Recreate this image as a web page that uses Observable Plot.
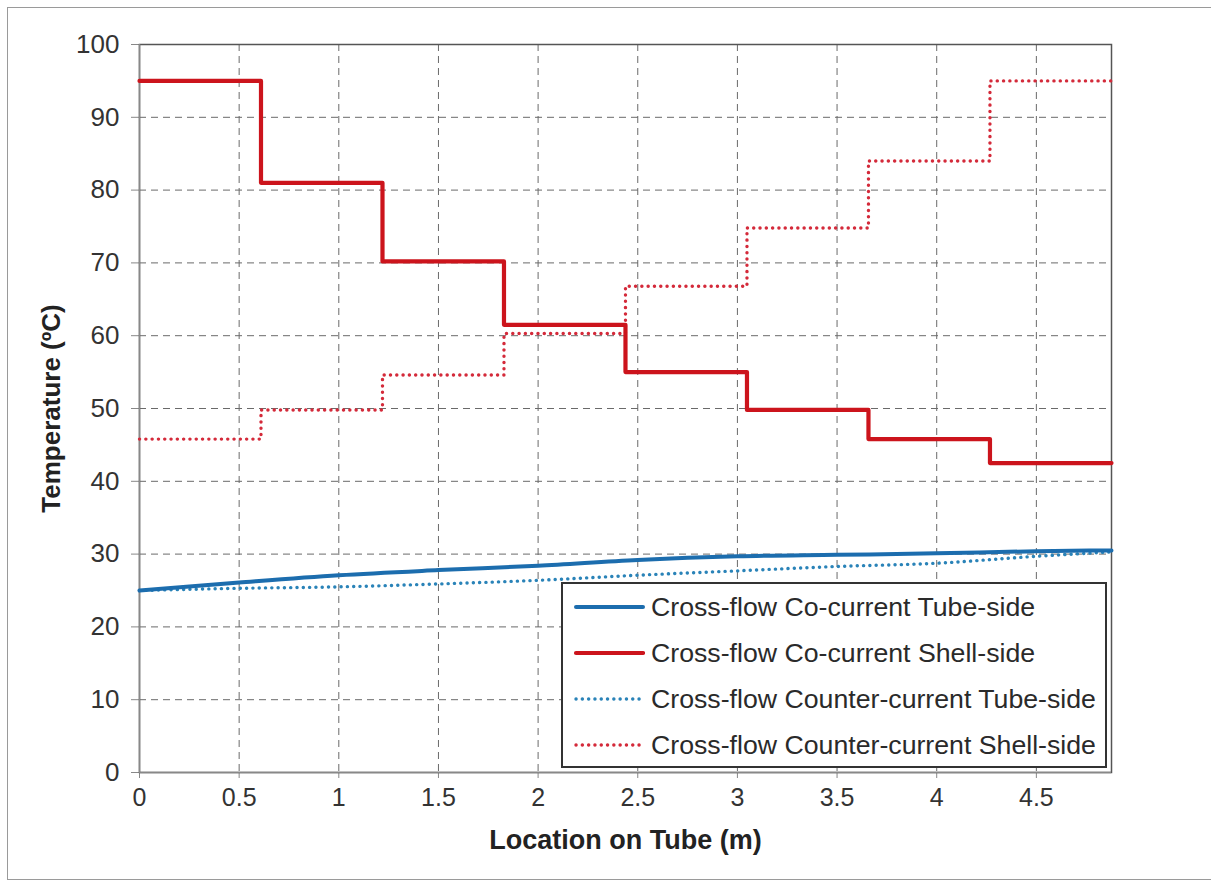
<!DOCTYPE html>
<html>
<head>
<meta charset="utf-8">
<script src="https://cdn.jsdelivr.net/npm/d3@7"></script>
<script src="https://cdn.jsdelivr.net/npm/@observablehq/plot@0.6"></script>
<style>
  html, body { margin: 0; padding: 0; background: #fff; }
  #wrap { position: relative; width: 1211px; height: 882px; overflow: hidden; }
  #border { position: absolute; left: 7px; top: 7px; width: 1210px; height: 873px; border: 1.5px solid #9a9a9a; box-sizing: border-box; pointer-events: none; }
  #legend { position: absolute; left: 561px; top: 582px; width: 546px; height: 186px; border: 2px solid #333; box-sizing: border-box; background: #fff;
            font-family: "Liberation Sans", Arial, sans-serif; font-size: 26.7px; color: #2a2a2a; }
  .row { position: absolute; left: 0; height: 30px; }
  .txt { position: absolute; left: 88px; top: 0px; white-space: nowrap; line-height: 30px; }
</style>
</head>
<body>
<div id="wrap">
  <div id="chart"></div>
  <div id="border"></div>
  <div id="legend"></div>
</div>
<script>
// ---- data ----
const tubeX = [0, 0.5, 1, 1.5, 2, 2.5, 3, 3.5, 4, 4.5, 4.877];
const coTube = [25, 26.1, 27.1, 27.8, 28.4, 29.2, 29.7, 29.9, 30.1, 30.4, 30.5];
const counterTube = [25, 25.3, 25.5, 25.9, 26.4, 27.1, 27.7, 28.3, 28.75, 29.7, 30.3];

const stepX = [0, 0.6096, 1.2192, 1.8288, 2.4384, 3.048, 3.6576, 4.2672, 4.877];
const coShell = [95, 81, 70.2, 61.5, 55, 49.8, 45.8, 42.5, 42.5];
const counterShell = [45.8, 49.8, 54.6, 60.3, 66.8, 74.8, 84, 95, 95];

const xTicks = [0, 0.5, 1, 1.5, 2, 2.5, 3, 3.5, 4, 4.5];
const yTicks = [0, 10, 20, 30, 40, 50, 60, 70, 80, 90, 100];

const seriesNames = [
  "Cross-flow Co-current Tube-side",
  "Cross-flow Co-current Shell-side",
  "Cross-flow Counter-current Tube-side",
  "Cross-flow Counter-current Shell-side"
];
const xLabel = "Location on Tube (m)";
const yLabel = "Temperature (ºC)";

// ---- styles ----
const blue = "#1c6dae";
const blueDot = "#2a83b8";
const red = "#cc141c";
const redDot = "#d42a3a";
const styles = [
  {stroke: blue, width: 4, dash: null},
  {stroke: red, width: 4.2, dash: null},
  {stroke: blueDot, width: 3.4, dash: "0.1 6.2"},
  {stroke: redDot, width: 3.4, dash: "0.1 6.2"}
];

const tubeCo = tubeX.map((x, i) => ({x, y: coTube[i]}));
const tubeCounter = tubeX.map((x, i) => ({x, y: counterTube[i]}));
const shellCo = stepX.map((x, i) => ({x, y: coShell[i]}));
const shellCounter = stepX.map((x, i) => ({x, y: counterShell[i]}));

const mainFont = "'Liberation Sans', Arial, sans-serif";

const chart = Plot.plot({
  width: 1211,
  height: 882,
  marginLeft: 139,
  marginRight: 100,
  marginTop: 44,
  marginBottom: 110,
  style: {background: "transparent", fontFamily: mainFont, color: "#333"},
  x: {domain: [0, 4.877]},
  y: {domain: [0, 100]},
  marks: [
    Plot.gridX(xTicks, {stroke: "#6a6a6a", strokeOpacity: 1, strokeWidth: 1, strokeDasharray: "7 5"}),
    Plot.gridY(yTicks, {stroke: "#6a6a6a", strokeOpacity: 1, strokeWidth: 1, strokeDasharray: "7 5"}),
    Plot.axisX({ticks: xTicks, tickSize: 6, tickPadding: 10, stroke: "#888", fontSize: 25, fontFamily: mainFont, fill: "#333", label: null, tickFormat: d => String(d)}),
    Plot.axisY({ticks: yTicks, tickSize: 8, tickPadding: 12, stroke: "#888", fontSize: 26, fontFamily: mainFont, fill: "#333", label: null, tickFormat: d => String(d)}),
    Plot.frame({stroke: "#555", strokeWidth: 1.5}),
    Plot.ruleX([0], {stroke: "#888", strokeWidth: 1.5}),
    Plot.ruleY([0], {stroke: "#888", strokeWidth: 1.5}),
    Plot.line(tubeCounter, {x: "x", y: "y", stroke: styles[2].stroke, strokeWidth: styles[2].width, strokeDasharray: styles[2].dash, strokeLinecap: "round", curve: "monotone-x"}),
    Plot.line(shellCounter, {x: "x", y: "y", stroke: styles[3].stroke, strokeWidth: styles[3].width, strokeDasharray: styles[3].dash, strokeLinecap: "round", curve: "step-after"}),
    Plot.line(tubeCo, {x: "x", y: "y", stroke: styles[0].stroke, strokeWidth: styles[0].width, curve: "monotone-x"}),
    Plot.line(shellCo, {x: "x", y: "y", stroke: styles[1].stroke, strokeWidth: styles[1].width, curve: "step-after"}),
    Plot.text([xLabel], {frameAnchor: "bottom", dy: 76, fontSize: 27, fontWeight: "bold", fill: "#222", fontFamily: mainFont}),
    Plot.text([yLabel], {frameAnchor: "left", textAnchor: "middle", dx: -88, rotate: -90, fontSize: 26, fontWeight: "bold", fill: "#222", fontFamily: mainFont})
  ]
});
document.getElementById("chart").appendChild(chart);

// ---- legend ----
const legend = document.getElementById("legend");
const rowTops = [8, 54, 100, 146];
seriesNames.forEach((name, i) => {
  const s = styles[i];
  const row = document.createElement("div");
  row.className = "row";
  row.style.top = rowTops[i] + "px";
  row.style.width = "540px";
  const svgNS = "http://www.w3.org/2000/svg";
  const svg = document.createElementNS(svgNS, "svg");
  svg.setAttribute("width", 72);
  svg.setAttribute("height", 10);
  svg.style.position = "absolute";
  svg.style.left = "10px";
  svg.style.top = "10px";
  const ln = document.createElementNS(svgNS, "line");
  ln.setAttribute("x1", 3); ln.setAttribute("x2", 70);
  ln.setAttribute("y1", 5); ln.setAttribute("y2", 5);
  ln.setAttribute("stroke", s.stroke);
  ln.setAttribute("stroke-width", s.width);
  ln.setAttribute("stroke-linecap", "round");
  if (s.dash) ln.setAttribute("stroke-dasharray", s.dash);
  svg.appendChild(ln);
  row.appendChild(svg);
  const t = document.createElement("div");
  t.className = "txt";
  t.textContent = name;
  row.appendChild(t);
  legend.appendChild(row);
});
</script>
</body>
</html>
